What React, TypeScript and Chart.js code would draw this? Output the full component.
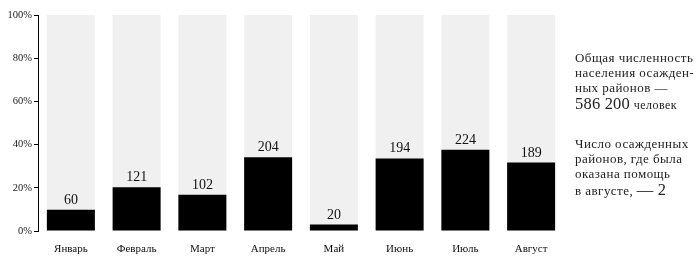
import React, { useEffect, useRef } from "react";
import { Chart, registerables } from "chart.js";

Chart.register(...registerables);

const months = ["Январь", "Февраль", "Март", "Апрель", "Май", "Июнь", "Июль", "Август"];
const counts = [60, 121, 102, 204, 20, 194, 224, 189];
const percents = [9.8, 20.3, 16.8, 34.2, 3.0, 33.6, 37.6, 31.7];
const fullBars = [100, 100, 100, 100, 100, 100, 100, 100];
const yTicks = ["0%", "20%", "40%", "60%", "80%", "100%"];

const SERIF = "'Liberation Serif', 'DejaVu Serif', serif";

const valueLabels = {
  id: "valueLabels",
  afterDatasetsDraw(chart: any) {
    const meta = chart.getDatasetMeta(0);
    const ctx = chart.ctx;
    ctx.save();
    ctx.fillStyle = "#111";
    ctx.font = `14px ${SERIF}`;
    ctx.textAlign = "center";
    ctx.textBaseline = "alphabetic";
    meta.data.forEach((bar: any, i: number) => {
      ctx.fillText(String(counts[i]), bar.x, bar.y - 6);
    });
    ctx.restore();
  },
};

export default function App() {
  const ref = useRef<HTMLCanvasElement>(null);
  useEffect(() => {
    const chart = new Chart(ref.current!, {
      type: "bar",
      data: {
        labels: months,
        datasets: [
          {
            data: percents,
            backgroundColor: "#000",
            grouped: false,
            barPercentage: 0.73,
            categoryPercentage: 1,
            order: 0,
          } as any,
          {
            data: fullBars,
            backgroundColor: "#f0f0f0",
            grouped: false,
            barPercentage: 0.73,
            categoryPercentage: 1,
            order: 1,
          } as any,
        ],
      },
      options: {
        animation: false,
        responsive: false,
        maintainAspectRatio: false,
        layout: { padding: { top: 15, right: 136, left: 0, bottom: 0 } },
        plugins: { legend: { display: false }, tooltip: { enabled: false } },
        scales: {
          x: {
            grid: { display: false },
            border: { display: false },
            ticks: { color: "#111", font: { family: SERIF, size: 11 }, padding: 4 },
            afterFit: (s: any) => {
              s.height = 27;
            },
          },
          y: {
            min: 0,
            max: 100,
            grid: { drawOnChartArea: false, drawTicks: true, tickLength: 4, color: "#000" },
            border: { display: true, color: "#000" },
            ticks: {
              stepSize: 20,
              color: "#222",
              font: { family: SERIF, size: 10.5 },
              padding: 2,
              callback: (v: any) => yTicks[Math.round(v / 20)],
            },
            afterFit: (s: any) => {
              s.width = 38;
            },
          },
        },
      },
      plugins: [valueLabels],
    });
    return () => chart.destroy();
  }, []);

  const textStyle: React.CSSProperties = {
    position: "absolute",
    left: 575,
    fontFamily: SERIF,
    fontSize: 13,
    letterSpacing: "0.45px",
    lineHeight: "15px",
    color: "#222",
    whiteSpace: "nowrap",
  };
  const big: React.CSSProperties = { fontSize: 16.5, lineHeight: "18px", letterSpacing: "0.2px" };

  return (
    <div style={{ position: "fixed", left: 0, top: 0, width: 700, height: 258, background: "#fff" }}>
      <canvas ref={ref} width={700} height={258} style={{ display: "block" }} />
      <div style={{ ...textStyle, top: 50 }}>
        Общая численность
        <br />
        населения осажден-
        <br />
        ных районов —
        <br />
        <span style={big}>586 200</span> <span style={{ fontSize: 12 }}>человек</span>
      </div>
      <div style={{ ...textStyle, top: 136 }}>
        Число осажденных
        <br />
        районов, где была
        <br />
        оказана помощь
        <br />
        в августе, <span style={big}>— 2</span>
      </div>
    </div>
  );
}
